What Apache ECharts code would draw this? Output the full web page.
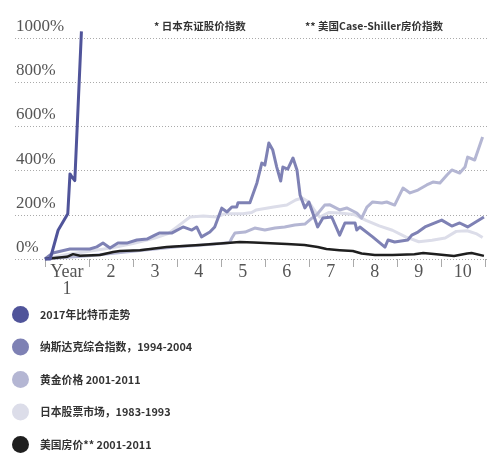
<!DOCTYPE html>
<html lang="zh">
<head>
<meta charset="UTF-8">
<title>泡沫对比</title>
<script src="https://cdn.jsdelivr.net/npm/echarts@6/dist/echarts.min.js"></script>
<style>
  html, body { margin: 0; padding: 0; background: #fff; }
  #chart { width: 500px; height: 460px; }
</style>
</head>
<body>
<div id="chart"></div>
<script>
// [year, % change]
var bitcoin = [[0,0],[0.12,0],[0.3,130],[0.52,205],[0.57,385],[0.62,370],[0.68,355],[0.83,1030]];
var nasdaq = [[0,0],[0.18,27],[0.57,45],[1.02,45],[1.18,55],[1.32,72],[1.48,50],[1.66,72],[1.86,72],
  [2.09,86],[2.32,90],[2.5,108],[2.61,118],[2.89,118],[3.14,145],[3.34,131],[3.45,145],[3.56,100],
  [3.75,122],[3.86,145],[4.02,230],[4.14,213],[4.25,235],[4.36,235],[4.39,255],[4.66,255],[4.82,344],
  [4.93,434],[5.0,425],[5.09,525],[5.18,493],[5.27,416],[5.36,353],[5.41,416],[5.52,407],[5.64,457],
  [5.73,403],[5.8,290],[5.91,231],[6.0,258],[6.09,208],[6.2,145],[6.32,186],[6.52,190],[6.7,108],
  [6.82,163],[7.05,163],[7.09,131],[7.16,145],[7.45,100],[7.73,54],[7.8,86],[7.95,77],[8.25,86],
  [8.34,108],[8.48,122],[8.64,145],[9.02,176],[9.25,149],[9.43,163],[9.61,145],[9.98,190]];
var gold = [[0,0],[0.5,8],[1,15],[1.5,25],[2,35],[2.5,45],[3,55],[3.5,62],[4,70],[4.2,75],[4.25,95],
  [4.32,118],[4.55,122],[4.77,140],[5.0,131],[5.23,140],[5.45,145],[5.68,154],[5.91,158],[6.07,185],
  [6.18,200],[6.36,244],[6.48,245],[6.7,222],[6.86,231],[7.09,208],[7.2,185],[7.32,235],[7.45,258],
  [7.66,253],[7.77,258],[7.95,244],[8.14,321],[8.3,299],[8.48,312],[8.68,335],[8.82,348],[8.98,344],
  [9.14,380],[9.25,403],[9.43,389],[9.55,416],[9.61,461],[9.77,448],[9.95,552]];
var japan = [[0,0],[0.5,20],[1.0,35],[1.5,50],[2.0,70],[2.5,95],[2.8,115],[3.1,160],[3.3,190],[3.6,195],
  [3.9,190],[4.1,205],[4.5,205],[4.7,210],[4.8,222],[5.2,235],[5.5,244],[5.7,267],[5.85,276],[6.0,258],
  [6.15,213],[6.25,190],[6.45,210],[6.7,208],[7.05,200],[7.3,175],[7.6,150],[7.9,130],[8.2,100],
  [8.5,78],[8.8,85],[9.1,95],[9.35,125],[9.6,128],[9.8,115],[9.95,97]];
var usHouse = [[0,0],[0.5,10],[0.64,22],[0.8,15],[1.25,18],[1.55,32],[1.7,36],[2.16,40],[2.77,54],
  [3.52,63],[4.14,72],[4.43,77],[4.75,75],[5.0,72],[5.5,68],[5.9,63],[6.2,54],[6.4,45],[6.7,40],
  [7.0,36],[7.2,25],[7.5,18],[7.9,18],[8.4,22],[8.6,27],[8.9,22],[9.3,14],[9.6,25],[9.7,27],[9.98,14]];

var names = ['2017年比特币走势', '纳斯达克综合指数，1994-2004', '黄金价格 2001-2011', '日本股票市场，1983-1993', '美国房价** 2001-2011'];
var colors = ['#50549a', '#7e81b4', '#b4b6d3', '#dcdde9', '#1f1f1f'];
var yearTicks = [0,1,2,3,4,5,6,7,8,9,10];
var yearLabels = ['Year\n1','2','3','4','5','6','7','8','9','10'];
var notes = ['* 日本东证股价指数', '** 美国Case-Shiller房价指数'];

var chart = echarts.init(document.getElementById('chart'));
var serif = 'Liberation Serif';
var cjk = 'Noto Sans CJK SC';

function line(i, data, w, z) {
  return {
    name: names[i], type: 'line', data: data, symbol: 'none', z: z,
    clip: false,
    lineStyle: { color: colors[i], width: w, join: 'round' },
    itemStyle: { color: colors[i] }
  };
}

chart.setOption({
  animation: false,
  backgroundColor: '#fff',
  grid: { left: 15, right: 13, top: 38, bottom: 201 },
  xAxis: {
    type: 'value', min: -0.68, max: 10.05,
    axisLine: { show: false },
    splitLine: { show: false },
    axisTick: { show: true, customValues: yearTicks, length: 8, lineStyle: { color: '#aaa' } },
    axisLabel: {
      customValues: yearLabels.map(function (s, i) { return i + 0.5; }),
      formatter: function (v) { return yearLabels[Math.floor(v)]; },
      fontFamily: serif, fontSize: 18, color: '#555', lineHeight: 17, margin: 5
    }
  },
  yAxis: {
    type: 'value', min: 0, max: 1000, interval: 200,
    axisLine: { show: false }, axisTick: { show: false },
    splitLine: { lineStyle: { color: '#aaa', type: [1, 2], width: 1 } },
    axisLabel: {
      inside: true, margin: 1, verticalAlign: 'bottom', padding: [0, 0, 3, 0],
      formatter: function (v) { return v + '%'; },
      fontFamily: serif, fontSize: 17, color: '#555'
    }
  },
  legend: {
    orient: 'vertical', left: 12, top: 306, height: 160, padding: 0,
    icon: 'circle', itemWidth: 17, itemHeight: 17, itemGap: 15.5,
    data: names,
    textStyle: { fontFamily: cjk, fontSize: 10.8, fontWeight: 'bold', color: '#333', padding: [0, 0, 0, 6] }
  },
  graphic: [
    { type: 'text', left: 154, top: 21, style: { text: notes[0], font: 'bold 10.5px "Noto Sans CJK SC"', fill: '#333' } },
    { type: 'text', left: 305, top: 21, style: { text: notes[1], font: 'bold 10.5px "Noto Sans CJK SC"', fill: '#333' } }
  ],
  series: [
    line(3, japan, 3, 1),
    line(2, gold, 3, 2),
    line(1, nasdaq, 3, 3),
    line(4, usHouse, 2.5, 4),
    line(0, bitcoin, 3, 5)
  ]
});
</script>
</body>
</html>
